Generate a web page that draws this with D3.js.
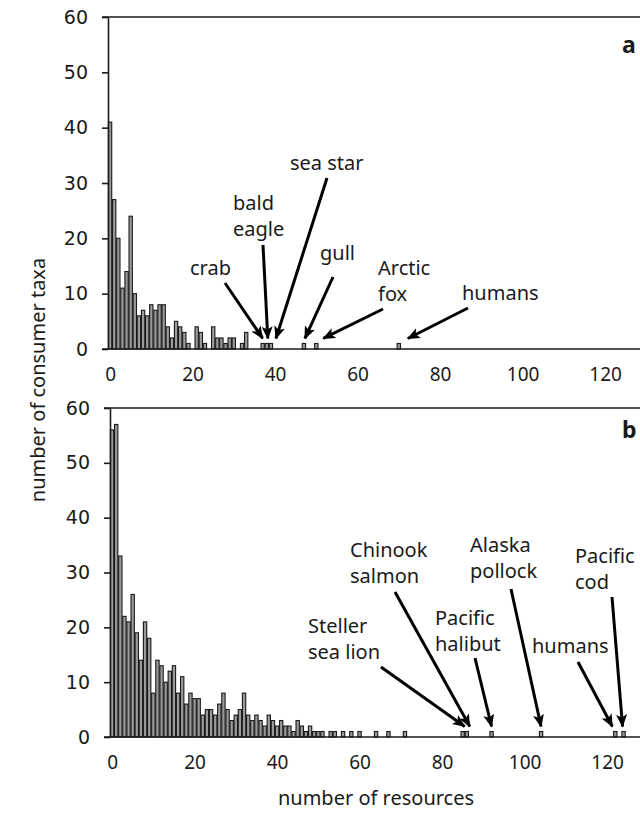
<!DOCTYPE html>
<html>
<head>
<meta charset="utf-8">
<script src="https://cdn.jsdelivr.net/npm/d3@7"></script>
<style>
  body { margin: 0; background: #fff; }
  text { font-family: "Noto Sans", sans-serif; fill: #1a1a1a; }
</style>
</head>
<body>
<svg id="chart" width="640" height="819"></svg>
<script>
// panel a: consumer taxa per number of resources (index = resources, 0..39)
var countsA = [41, 27, 20, 11, 14, 24, 10, 6, 7, 6, 8, 7, 8, 8, 4, 2, 5, 4, 3, 1,
               0, 4, 3, 1, 0, 4, 2, 2, 1, 2, 2, 0, 1, 3, 0, 0, 0, 1, 1, 1];
// lone generalists further out, one taxon each
var tailA = [47, 50, 70];

// panel b (index = resources, 0..60)
var countsB = [56, 57, 33, 22, 21, 26, 19, 14, 21, 18, 8, 14, 13, 10, 12, 13, 8, 11, 6, 8,
               7, 7, 4, 5, 5, 4, 6, 8, 5, 3, 4, 5, 8, 4, 3, 4, 3, 2, 4, 3,
               2, 3, 2, 2, 1, 3, 2, 1, 2, 1, 1, 1, 0, 1, 1, 0, 1, 0, 1, 0, 1];
var tailB = [64, 67, 71, 85, 86, 92, 104, 122, 124];

var yTicks = [0, 10, 20, 30, 40, 50, 60];
var xTicks = [0, 20, 40, 60, 80, 100, 120];

var namesA = ["crab", "bald\neagle", "sea star", "gull", "Arctic\nfox", "humans"];
var targetsA = [37, 38, 39, 47, 50, 70];
var namesB = ["Steller\nsea lion", "Chinook\nsalmon", "Pacific\nhalibut", "Alaska\npollock", "humans", "Pacific\ncod"];
var targetsB = [85, 86, 92, 104, 122, 124];

var svg = d3.select("#chart");

svg.append("defs").append("marker")
    .attr("id", "head")
    .attr("viewBox", "0 0 13 11")
    .attr("refX", 12).attr("refY", 5.5)
    .attr("markerWidth", 13).attr("markerHeight", 11)
    .attr("markerUnits", "userSpaceOnUse")
    .attr("orient", "auto")
  .append("path")
    .attr("d", "M0,0L13,5.5L0,11L3,5.5Z")
    .attr("fill", "#000");

function toBars(counts, tail) {
  return counts.map(function(c, i) { return {r: i, n: c}; })
    .concat(tail.map(function(r) { return {r: r, n: 1}; }))
    .filter(function(d) { return d.n > 0; });
}

function drawPanel(p) {
  var g = svg.append("g");
  var x = d3.scaleLinear().domain([0, 130]).range([p.left, p.left + 130 * 4.125]);
  var y = d3.scaleLinear().domain([0, 60]).range([p.bottom, p.top]);
  var bw = x(1) - x(0);

  g.selectAll("rect.bar")
    .data(p.bars)
    .enter().append("rect")
      .attr("class", "bar")
      .attr("x", function(d) { return x(d.r) + 0.4; })
      .attr("width", bw - 0.8)
      .attr("y", function(d) { return y(d.n); })
      .attr("height", function(d) { return y(0) - y(d.n); })
      .attr("fill", "#9a9a9a")
      .attr("stroke", "#1a1a1a")
      .attr("stroke-width", 1.1);

  // frame: top and bottom lines run off the right edge
  [y(0), y(60)].forEach(function(yy) {
    g.append("line")
      .attr("x1", p.left - 6).attr("x2", 640)
      .attr("y1", yy).attr("y2", yy)
      .attr("stroke", "#1a1a1a").attr("stroke-width", 1.6);
  });

  var ya = g.append("g")
    .attr("transform", "translate(" + p.left + ",0)")
    .call(d3.axisLeft(y).tickValues(yTicks).tickSize(6).tickSizeOuter(0).tickPadding(14));
  ya.select(".domain").attr("stroke", "#1a1a1a").attr("stroke-width", 1.6);
  ya.selectAll(".tick line").attr("stroke", "#1a1a1a").attr("stroke-width", 1.6);
  ya.selectAll(".tick text")
    .style("font-family", "'DejaVu Sans', sans-serif")
    .style("font-size", "19px")
    .attr("fill", "#1a1a1a");

  var xa = g.append("g")
    .attr("transform", "translate(" + (bw / 2) + "," + p.bottom + ")")
    .call(d3.axisBottom(x).tickValues(xTicks).tickSize(0));
  xa.select(".domain").remove();
  xa.selectAll(".tick text")
    .attr("y", 32).attr("dy", 0)
    .style("font-family", "'Noto Sans', sans-serif")
    .style("font-size", "19px")
    .attr("fill", "#1a1a1a");

  // callouts
  p.names.forEach(function(name, i) {
    var L = p.layout[i];
    var t = g.append("text")
      .attr("x", L.tx).attr("y", L.ty)
      .style("font-size", "20px");
    name.split("\n").forEach(function(s, k) {
      t.append("tspan").attr("x", L.tx).attr("dy", k ? 26 : 0).text(s);
    });
    var tipX = x(p.targets[i]) + bw / 2 + L.dx;
    var tipY = y(1) - 5;
    g.append("line")
      .attr("x1", L.x1).attr("y1", L.y1)
      .attr("x2", tipX).attr("y2", tipY)
      .attr("stroke", "#000").attr("stroke-width", 3)
      .attr("marker-end", "url(#head)");
  });

  g.append("text")
    .attr("x", 622).attr("y", p.top + p.letterDy)
    .style("font-size", "23px").style("font-weight", "bold")
    .text(p.letter);
}

drawPanel({
  left: 108, top: 17, bottom: 349,
  bars: toBars(countsA, tailA),
  names: namesA, targets: targetsA, letter: "a", letterDy: 36,
  layout: [
    {tx: 190, ty: 275, x1: 225, y1: 283, dx: 0},
    {tx: 233, ty: 210, x1: 263, y1: 245, dx: 1},
    {tx: 290, ty: 170, x1: 327, y1: 178, dx: 5},
    {tx: 320, ty: 260, x1: 333, y1: 277, dx: 1},
    {tx: 378, ty: 275, x1: 383, y1: 309, dx: 7},
    {tx: 462, ty: 300, x1: 468, y1: 308, dx: 9}
  ]
});

drawPanel({
  left: 110, top: 408, bottom: 737,
  bars: toBars(countsB, tailB),
  names: namesB, targets: targetsB, letter: "b", letterDy: 30,
  layout: [
    {tx: 308, ty: 633, x1: 381, y1: 667, dx: 2},
    {tx: 350, ty: 557, x1: 395, y1: 592, dx: 3},
    {tx: 435, ty: 625, x1: 475, y1: 658, dx: 0},
    {tx: 470, ty: 552, x1: 511, y1: 589, dx: 0},
    {tx: 532, ty: 653, x1: 578, y1: 662, dx: -3},
    {tx: 575, ty: 563, x1: 612, y1: 597, dx: -1}
  ]
});

svg.append("text")
  .attr("transform", "translate(45,380) rotate(-90)")
  .attr("text-anchor", "middle")
  .style("font-size", "20px")
  .text("number of consumer taxa");

svg.append("text")
  .attr("x", 376).attr("y", 805)
  .attr("text-anchor", "middle")
  .style("font-size", "20px")
  .text("number of resources");
</script>
</body>
</html>
